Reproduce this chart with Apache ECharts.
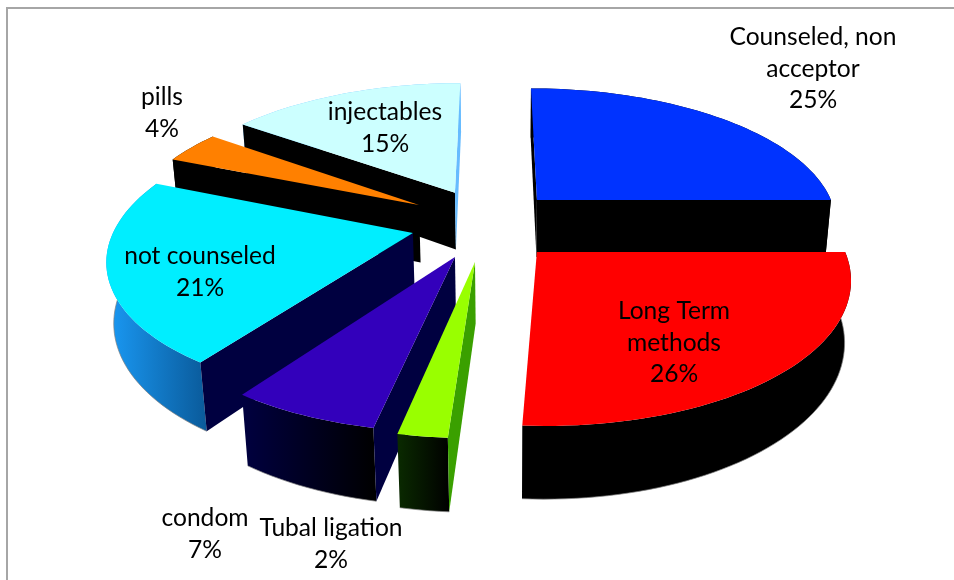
<!DOCTYPE html>
<html><head><meta charset="utf-8">
<style>html,body{margin:0;padding:0;background:#fff}#c{width:954px;height:580px}</style>
<script src="https://cdn.jsdelivr.net/npm/echarts@6/dist/echarts.min.js"></script>
</head><body><div id="c"></div>
<script>
// ---- data ----
const categories = ['Counseled, non\nacceptor', 'Long Term\nmethods', 'Tubal ligation', 'condom', 'not counseled', 'pills', 'injectables'];
// slice sizes estimated from the drawn angles; labels show them rounded
const values = [25, 26, 2.2, 6.6, 21.4, 3.8, 15];
// ---- style ----
const topColors = ['#0033ff', '#ff0000', '#99ff00', '#3300bb', '#00eeff', '#ff8000', '#ccffff'];
const startFace = ['#000000', '#000000', '#3aa000', '#000040', '#000040', '#000000', '#000000'];
const endFace = ['#000000', '#000000', '#0a2a00', '#000040', '#000040', '#000000', '#66bbff'];
const arcLeft = ['#000000', '#000000', '#0a2a00', '#000040', '#1a9af5', '#000000', '#66bbff'];
const arcRight = ['#000000', '#000000', '#000000', '#000000', '#0a5a9a', '#000000', '#66bbff'];
// explosion of each slice, in disk radii (sideways, backwards), and its drawn radius
const explodeU = [0.146, 0.137, -0.060, -0.124, -0.265, -0.2535, -0.134];
const explodeV = [0.195, -0.183, -0.250, -0.217, -0.050, 0.156, 0.250];
const sliceRadius = [1, 0.985, 0.975, 0.98, 0.98, 0.97, 1];
// paint order, back to front
const paintOrder = [6, 5, 4, 3, 2, 0, 1];
const labelX = [813, 674, 331, 205, 200, 162, 385];
const labelY = [69, 343, 544, 534, 272, 113, 128];

const CX = 494, CY = 226, RADIUS = 303.5, PERSP = 0.166, TILT = 138, DEPTH = 59;
const VPX = 510, CONVERGE = 0.0003;
const total = values.reduce((a, b) => a + b, 0);

function project(u, v) {
  const s = 1 / (1 + PERSP * v);
  return [CX + u * RADIUS * s, CY - TILT * v * s, s];
}
function lower(p) {
  const h = DEPTH * p[2];
  return [p[0] - (p[0] - VPX) * h * CONVERGE, p[1] + h];
}
function area(pts) {
  let a = 0;
  for (let i = 0; i < pts.length; i++) {
    const q = pts[(i + 1) % pts.length];
    a += pts[i][0] * q[1] - q[0] * pts[i][1];
  }
  return a;
}
function poly(points, fill) {
  return { type: 'polygon', shape: { points: points }, style: { fill: fill, stroke: null } };
}
function renderSlice(params, api) {
  const i = api.value(0);
  let before = 0;
  for (let k = 0; k < i; k++) before += values[k];
  const a0 = before / total * Math.PI * 2;
  const a1 = (before + values[i]) / total * Math.PI * 2;
  const eu = explodeU[i], ev = explodeV[i], r = sliceRadius[i];
  const apex = project(eu, ev);
  const arc = [];
  const n = Math.max(3, Math.ceil((a1 - a0) / 0.03));
  for (let k = 0; k <= n; k++) {
    const a = a0 + (a1 - a0) * k / n;
    arc.push(project(eu + r * Math.sin(a), ev + r * Math.cos(a)));
  }
  const A = apex.slice(0, 2), Al = lower(apex);
  const first = arc[0], last = arc[arc.length - 1];
  const children = [];
  const arcTop = arc.map(p => [p[0], p[1]]);
  const arcLow = arc.map(lower).reverse();
  children.push(poly(arcTop.concat(arcLow), {
    type: 'linear', x: 0, y: 0, x2: 1, y2: 0,
    colorStops: [{ offset: 0, color: arcLeft[i] }, { offset: 1, color: arcRight[i] }]
  }));
  children.push({ type: 'polyline', shape: { points: arcLow }, style: { fill: null, stroke: '#808080', lineWidth: 1, opacity: 0.7 } });
  const sf = [A, first.slice(0, 2), lower(first), Al];
  if (area(sf) < 0) children.push(poly(sf, startFace[i]));
  const ef = [A, last.slice(0, 2), lower(last), Al];
  if (area(ef) > 0) children.push(poly(ef, endFace[i]));
  children.push(poly([A].concat(arcTop), topColors[i]));
  return { type: 'group', children: children };
}
function renderLabel(params, api) {
  const i = api.value(0);
  return {
    type: 'text',
    x: labelX[i], y: labelY[i],
    style: {
      text: categories[i] + '\n' + Math.round(values[i]) + '%',
      fill: '#000', font: '24.6px Lato, "Open Sans", sans-serif',
      lineHeight: 31.5, align: 'center', verticalAlign: 'middle'
    }
  };
}
const chart = echarts.init(document.getElementById('c'), null, { renderer: 'canvas' });
chart.setOption({
  animation: false,
  backgroundColor: '#fff',
  graphic: [
    { type: 'polyline', shape: { points: [[7, 580], [7, 8], [954, 8]] }, style: { fill: null, stroke: '#a6a6a6', lineWidth: 2 } }
  ],
  series: [
    { type: 'custom', coordinateSystem: 'none', renderItem: renderSlice, silent: true, z: 2, data: paintOrder.map(i => [i]) },
    { type: 'custom', coordinateSystem: 'none', renderItem: renderLabel, silent: true, z: 5, data: values.map((v, i) => [i]) }
  ]
});
</script></body></html>
